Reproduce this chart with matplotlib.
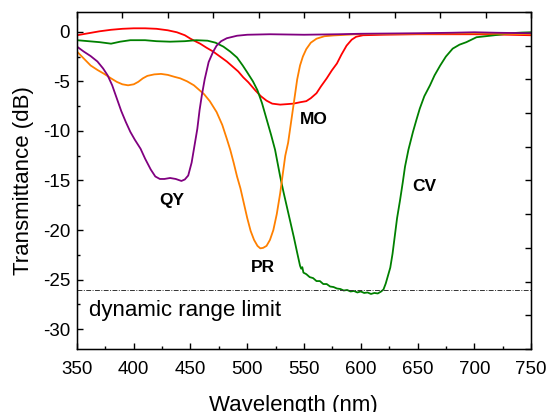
import matplotlib
matplotlib.use("Agg")
import matplotlib.pyplot as plt
from matplotlib.ticker import MultipleLocator

plt.rcParams["font.family"] = ["Liberation Sans", "DejaVu Sans"]
plt.rcParams["axes.unicode_minus"] = False

# ---- spectra (wavelength nm, transmittance dB) ----
qy_wl = [350, 356, 362, 368, 373, 377, 381, 385, 389, 393, 397, 401, 406, 410, 415, 419,
         423, 427, 432, 437, 442, 445, 448, 451, 453.5, 456, 458, 460, 462.5, 466, 470, 473,
         477, 482, 491, 500, 520, 550, 580, 600, 650, 680, 700, 720, 750]
qy_db = [-1.5, -2.0, -2.45, -3.0, -3.7, -4.4, -5.4, -6.7, -8.0, -9.1, -10.1, -10.9, -11.8, -12.8,
         -13.9, -14.6, -14.85, -14.85, -14.75, -14.85, -15.05, -14.9, -14.5, -13.2, -11.5, -9.8,
         -7.9, -6.4, -4.8, -3.05, -2.0, -1.4, -0.95, -0.65, -0.4, -0.3, -0.25, -0.3, -0.25, -0.2,
         -0.15, -0.1, -0.05, -0.1, -0.15]

pr_wl = [350, 356, 362, 368, 374, 380, 385, 390, 395, 400, 404, 408, 412, 418, 424, 430, 436,
         441, 447, 453, 458, 462, 467, 473, 478, 482, 485, 488, 491, 494, 497, 500, 503, 506,
         509, 511.5, 514, 517, 520, 523, 526, 529, 531, 533.5, 536, 539, 542, 544, 546.5, 549,
         552, 556, 561, 568, 576, 596, 650, 700, 750]
pr_db = [-2.0, -2.7, -3.4, -3.85, -4.25, -4.7, -5.05, -5.3, -5.4, -5.3, -5.05, -4.7, -4.45,
         -4.3, -4.25, -4.35, -4.55, -4.7, -5.0, -5.4, -5.9, -6.3, -7.0, -8.1, -9.4, -10.8, -11.9,
         -13.2, -14.6, -15.8, -17.3, -18.8, -20.1, -21.0, -21.6, -21.85, -21.8, -21.6, -21.0,
         -20.0, -18.4, -16.3, -14.6, -12.5, -11.2, -8.8, -6.4, -4.8, -3.4, -2.5, -1.75, -1.1,
         -0.7, -0.45, -0.37, -0.25, -0.2, -0.15, -0.25]

mo_wl = [350, 360, 370, 380, 390, 400, 410, 420, 430, 438, 445, 450, 455, 458.5, 464, 470,
         476, 482, 488, 492, 496.5, 501, 507, 512, 517, 522, 529, 535, 540.6, 547, 552, 556,
         561, 565, 570, 574.5, 579, 583, 587.5, 592, 596, 602, 620, 650, 700, 730, 750]
mo_db = [-0.35, -0.15, 0.05, 0.2, 0.3, 0.35, 0.35, 0.3, 0.15, -0.05, -0.35, -0.7, -1.0, -1.2,
         -1.6, -2.0, -2.5, -3.0, -3.6, -4.0, -4.6, -5.1, -5.9, -6.5, -6.95, -7.25, -7.35, -7.3,
         -7.25, -7.1, -7.0, -6.7, -6.2, -5.5, -4.7, -3.9, -3.2, -2.3, -1.4, -0.8, -0.5, -0.35,
         -0.3, -0.25, -0.25, -0.3, -0.35]

cv_wl = [350, 360, 370, 380, 388, 397, 410, 420, 432, 445, 455, 465, 472, 479, 485, 491, 496,
         500, 505, 509, 513, 517, 521, 524.5, 529, 532, 535, 538, 541, 544, 546.5, 547.5, 548.5,
         549.5, 552, 555, 558, 561, 564, 567, 570, 573, 576, 579, 582, 585, 588, 591, 594, 597,
         600, 603, 606, 609, 612, 615, 618, 620, 622, 624, 626, 628, 630, 632, 634.6, 637, 639,
         642, 646, 649, 652, 656, 661, 665, 670, 675, 681, 687, 693, 702, 710, 717, 725, 734,
         742, 750]
cv_db = [-0.85, -0.95, -1.05, -1.2, -1.0, -0.85, -0.85, -0.95, -1.0, -0.95, -0.85, -0.9, -1.1,
         -1.5, -2.0, -2.6, -3.4, -4.1, -5.0, -5.9, -7.2, -8.8, -10.4, -11.9, -14.6, -16.2, -17.7,
         -19.2, -20.7, -22.3, -23.6, -23.9, -23.75, -24.3, -24.45, -24.75, -24.85, -25.15, -25.15,
         -25.45, -25.45, -25.7, -25.75, -25.9, -25.95, -26.1, -26.05, -26.2, -26.15, -26.3, -26.2,
         -26.35, -26.3, -26.45, -26.35, -26.4, -26.2, -26.0, -25.4, -24.6, -23.8, -22.4, -20.6,
         -18.8, -17.0, -15.2, -13.6, -11.9, -10.1, -8.9, -7.75, -6.5, -5.4, -4.4, -3.4, -2.5,
         -1.7, -1.3, -1.05, -0.55, -0.45, -0.36, -0.25, -0.13, -0.08, -0.05]

range_limit = -26.1

fig = plt.figure(figsize=(5.48, 4.12), dpi=100)
ax = fig.add_axes([0.1405, 0.153, 0.8285, 0.818])

ax.plot(mo_wl, mo_db, color="#ff0000", lw=1.3)
ax.plot(cv_wl, cv_db, color="#008000", lw=1.3)
ax.plot(pr_wl, pr_db, color="#ff8000", lw=1.3)
ax.plot(qy_wl, qy_db, color="#800080", lw=1.3)
ax.axhline(range_limit, color="#333333", lw=0.7, ls=(0, (5, 1.5, 1, 1.5)))

ax.text(433.5, -17.0, "QY", fontsize=12.5, fontweight="bold", ha="center", va="center")
ax.text(514, -23.8, "PR", fontsize=12.5, fontweight="bold", ha="center", va="center")
ax.text(559, -8.8, "MO", fontsize=12.5, fontweight="bold", ha="center", va="center")
ax.text(656, -15.6, "CV", fontsize=12.5, fontweight="bold", ha="center", va="center")
ax.text(360.3, -28.1, "dynamic range limit", fontsize=16, ha="left", va="center")

ax.set_xlim(350, 750)
ax.set_ylim(-32, 2)
ax.xaxis.set_major_locator(MultipleLocator(50))
ax.xaxis.set_minor_locator(MultipleLocator(25))
ax.yaxis.set_major_locator(MultipleLocator(5))
ax.yaxis.set_minor_locator(MultipleLocator(2.5))
ax.tick_params(which="both", direction="in", top=False, right=False, labelsize=13.5)
ax.tick_params(which="major", length=4, width=1)
ax.tick_params(which="minor", length=2.5, width=1)
ax.tick_params(axis="x", pad=9)
ax.tick_params(axis="y", pad=5)
ax.set_xlabel("Wavelength (nm)", fontsize=16, labelpad=12, x=0.477)
ax.set_ylabel("Transmittance (dB)", fontsize=16, labelpad=6)
for sp in ax.spines.values():
    sp.set_linewidth(1.0)
    sp.set_color("#222222")

# top and right frame ticks: ten equal divisions, no labels
axt = ax.twiny()
axt.set_xlim(0, 10)
axt.set_xticks(range(11))
axt.tick_params(direction="in", length=4, width=1, labeltop=False)
axr = ax.twinx()
axr.set_ylim(0, 10)
axr.set_yticks(range(11))
axr.tick_params(direction="in", length=4, width=1, labelright=False)

fig.savefig("out.png", dpi=100)
